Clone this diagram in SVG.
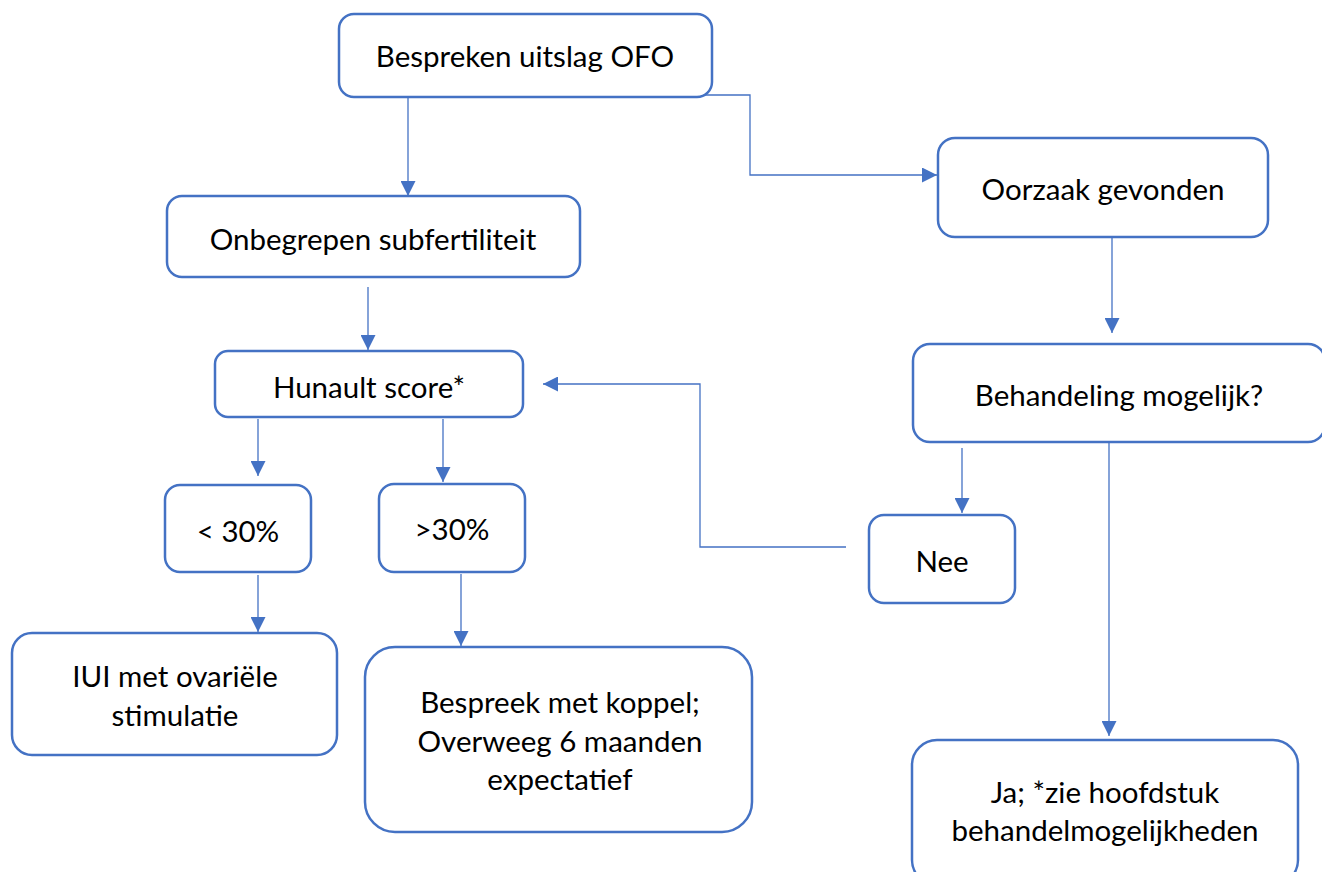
<svg xmlns="http://www.w3.org/2000/svg" width="1322" height="872" viewBox="0 0 1322 872">
<style>
.box{fill:#fff;stroke:#4472C4;stroke-width:2.5}
.t{font-family:Lato,"Liberation Sans",sans-serif;font-size:29.5px;fill:#000;text-anchor:middle}
.c{fill:none;stroke:#4472C4;stroke-width:1.3}
</style>
<defs>
<marker id="ah2" viewBox="0 0 15 15" refX="15" refY="7.5" markerWidth="15" markerHeight="15" markerUnits="userSpaceOnUse" orient="auto">
<path d="M0,0 L15,7.5 L0,15 z" fill="#4472C4"/>
</marker>
</defs>
<rect width="1322" height="872" fill="#fff"/>
<g id="connectors">
<path class="c" d="M408,97 V196" marker-end="url(#ah2)"/>
<path class="c" d="M563,95 H750 V175 H937" marker-end="url(#ah2)"/>
<path class="c" d="M1112,232 V333" marker-end="url(#ah2)"/>
<path class="c" d="M962,448 V513" marker-end="url(#ah2)"/>
<path class="c" d="M846,547 H700 V384 H543" marker-end="url(#ah2)"/>
<path class="c" d="M1109,442 V736" marker-end="url(#ah2)"/>
<path class="c" d="M368,287 V350" marker-end="url(#ah2)"/>
<path class="c" d="M258,419 V476" marker-end="url(#ah2)"/>
<path class="c" d="M443,419 V482" marker-end="url(#ah2)"/>
<path class="c" d="M258,575 V632" marker-end="url(#ah2)"/>
<path class="c" d="M461,574 V646" marker-end="url(#ah2)"/>
</g>
<g id="n1"><rect class="box" x="339" y="14" width="373" height="83" rx="15"/><text class="t" x="525" y="67">Bespreken uitslag OFO</text></g>
<g id="n2"><rect class="box" x="167" y="196" width="413" height="81" rx="15"/><text class="t" x="373" y="250">Onbegrepen subfertiliteit</text></g>
<g id="n3"><rect class="box" x="938" y="138" width="330" height="99" rx="17"/><text class="t" x="1103" y="200">Oorzaak gevonden</text></g>
<g id="n4"><rect class="box" x="913" y="344" width="412" height="98" rx="17"/><text class="t" x="1119" y="406">Behandeling mogelijk?</text></g>
<g id="n5"><rect class="box" x="869" y="515" width="146" height="88" rx="15"/><text class="t" x="942" y="572">Nee</text></g>
<g id="n6"><rect class="box" x="912" y="740" width="386" height="145" rx="25"/><text class="t" x="1105" y="803">Ja; *zie hoofdstuk</text><text class="t" x="1105" y="841">behandelmogelijkheden</text></g>
<g id="n7"><rect class="box" x="215" y="351" width="308" height="66" rx="13"/><text class="t" x="369" y="398">Hunault score*</text></g>
<g id="n8"><rect class="box" x="165" y="485" width="146" height="87" rx="15"/><text class="t" x="238" y="542">&lt; 30%</text></g>
<g id="n9"><rect class="box" x="379" y="484" width="146" height="88" rx="15"/><text class="t" x="452" y="540">&gt;30%</text></g>
<g id="n10"><rect class="box" x="12" y="633" width="325" height="122" rx="20"/><text class="t" x="175" y="687">IUI met ovariële</text><text class="t" x="175" y="726">stimulatie</text></g>
<g id="n11"><rect class="box" x="365" y="647" width="387" height="185" rx="30"/><text class="t" x="560" y="713">Bespreek met koppel;</text><text class="t" x="560" y="752">Overweeg 6 maanden</text><text class="t" x="560" y="790">expectatief</text></g>
</svg>
